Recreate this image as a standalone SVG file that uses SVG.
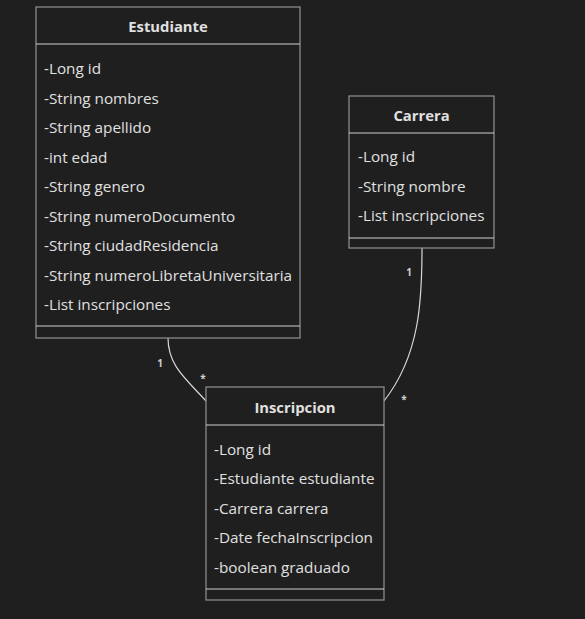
<svg xmlns="http://www.w3.org/2000/svg" width="585" height="619" viewBox="0 0 585 619">
<style>
.bg{fill:#1f1f1f}
.box{fill:#1f1f1f;stroke:#8a8a8a;stroke-width:1.3}
.div{stroke:#cfcfcf;stroke-width:1.2}
.title{font-family:"Open Sans","Liberation Sans",sans-serif;font-size:14.8px;font-weight:bold;fill:#e0e0e0;text-anchor:middle}
.attr{font-family:"Open Sans","Liberation Sans",sans-serif;font-size:15.3px;fill:#e0e0e0}
.edge{fill:none;stroke:#d8d8d8;stroke-width:1.2}
.lbl{font-family:"Open Sans","Liberation Sans",sans-serif;font-size:10px;font-weight:bold;fill:#d0d0d0;text-anchor:middle}
</style>
<rect class="bg" x="0" y="0" width="585" height="619"/>
<g id="connectors">
<path class="edge" d="M168,338 C168,365 185,378 206,401"/>
<path class="edge" d="M422,248 C422,300 420,355 384,401"/>
<text class="lbl" x="160" y="367">1</text>
<text class="lbl" x="203" y="382">*</text>
<text class="lbl" x="409" y="276">1</text>
<text class="lbl" x="404" y="403">*</text>
</g>
<g id="Estudiante">
<rect class="box" x="36" y="7" width="264" height="331"/>
<line class="div" x1="36" y1="44" x2="300" y2="44"/>
<line class="div" x1="36" y1="326" x2="300" y2="326"/>
<text class="title" x="168" y="32">Estudiante</text>
<text class="attr" x="44" y="74">-Long id</text>
<text class="attr" x="44" y="104">-String nombres</text>
<text class="attr" x="44" y="133">-String apellido</text>
<text class="attr" x="44" y="163">-int edad</text>
<text class="attr" x="44" y="192">-String genero</text>
<text class="attr" x="44" y="222">-String numeroDocumento</text>
<text class="attr" x="44" y="251">-String ciudadResidencia</text>
<text class="attr" x="44" y="281">-String numeroLibretaUniversitaria</text>
<text class="attr" x="44" y="310">-List inscripciones</text>
</g>
<g id="Carrera">
<rect class="box" x="349" y="96" width="145" height="152"/>
<line class="div" x1="349" y1="133" x2="494" y2="133"/>
<line class="div" x1="349" y1="238" x2="494" y2="238"/>
<text class="title" x="421.5" y="121">Carrera</text>
<text class="attr" x="358" y="162">-Long id</text>
<text class="attr" x="358" y="192">-String nombre</text>
<text class="attr" x="358" y="221">-List inscripciones</text>
</g>
<g id="Inscripcion">
<rect class="box" x="206" y="387" width="178" height="213"/>
<line class="div" x1="206" y1="425" x2="384" y2="425"/>
<line class="div" x1="206" y1="589" x2="384" y2="589"/>
<text class="title" x="295" y="413">Inscripcion</text>
<text class="attr" x="214" y="455">-Long id</text>
<text class="attr" x="214" y="484">-Estudiante estudiante</text>
<text class="attr" x="214" y="514">-Carrera carrera</text>
<text class="attr" x="214" y="543">-Date fechaInscripcion</text>
<text class="attr" x="214" y="573">-boolean graduado</text>
</g>
</svg>
